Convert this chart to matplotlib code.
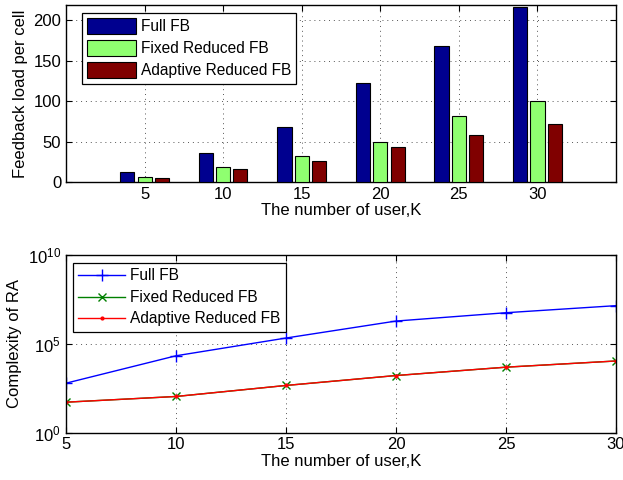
import numpy as np
import matplotlib
matplotlib.use("Agg")
import matplotlib.pyplot as plt

plt.rcParams['font.family'] = ['Liberation Sans', 'DejaVu Sans']
plt.rcParams['font.size'] = 12

users = [5, 10, 15, 20, 25, 30]

# feedback load per cell
load_full = [12.8, 35.5, 68.2, 122.7, 168.2, 216.1]
load_fixed = [6.6, 18.2, 31.8, 49.2, 81.4, 100.0]
load_adaptive = [5.0, 16.1, 26.4, 43.0, 58.3, 72.3]

# complexity of RA
cx_full = [6.0e2, 2.1e4, 2.1e5, 1.9e6, 5.6e6, 1.4e7]
cx_fixed = [51, 107, 447, 1620, 4790, 10700]
cx_adaptive = [51, 107, 447, 1620, 4790, 10700]

labels = ["Full FB", "Fixed Reduced FB", "Adaptive Reduced FB"]

fig = plt.figure(figsize=(6.23, 4.8), dpi=100)
ax1 = fig.add_axes([66 / 623, 1 - 182 / 480, 550 / 623, 177 / 480])
ax2 = fig.add_axes([66 / 623, 1 - 432.5 / 480, 550 / 623, 177.5 / 480])

x = np.array(users, dtype=float)
w = 0.9
off = 1.1
ax1.bar(x - off, load_full, w, color="#00008f", edgecolor="black", linewidth=0.8, label=labels[0], zorder=3)
ax1.bar(x, load_fixed, w, color="#8fff70", edgecolor="black", linewidth=0.8, label=labels[1], zorder=3)
ax1.bar(x + off, load_adaptive, w, color="#800000", edgecolor="black", linewidth=0.8, label=labels[2], zorder=3)
ax1.set_xlim(0, 35)
ax1.set_ylim(0, 219)
ax1.set_xticks(users)
ax1.set_yticks([0, 50, 100, 150, 200])
ax1.set_xlabel("The number of user,K", labelpad=1)
ax1.set_ylabel("Feedback load per cell")
ax1.grid(True, linestyle=(0, (1, 4)), color="#555555", linewidth=0.7, zorder=0)
leg1 = ax1.legend(loc="upper left", bbox_to_anchor=(0.029, 0.955), fancybox=False, edgecolor="black",
                  framealpha=1, fontsize=11.2, handlelength=3.1, handleheight=1.16, handletextpad=0.32,
                  borderpad=0.35, borderaxespad=0, labelspacing=0.38)
leg1.get_frame().set_linewidth(0.9)

ax2.semilogy(users, cx_full, color="#0000ff", marker="+", markersize=9, linewidth=1, label=labels[0])
ax2.semilogy(users, cx_fixed, color="#008000", marker="x", markersize=6, linewidth=1, label=labels[1])
ax2.semilogy(users, cx_adaptive, color="#ff0000", marker=".", markersize=4, linewidth=1, label=labels[2])
ax2.set_xlim(5, 30)
ax2.set_ylim(1, 1e10)
ax2.set_xticks(users)
ax2.set_yticks([1, 1e5, 1e10])
ax2.minorticks_off()
ax2.set_xlabel("The number of user,K", labelpad=1)
ax2.set_ylabel("Complexity of RA")
ax2.grid(True, linestyle=(0, (1, 4)), color="#555555", linewidth=0.7)
leg2 = ax2.legend(loc="upper left", bbox_to_anchor=(0.0127, 0.955), fancybox=False, edgecolor="black",
                  framealpha=1, fontsize=11.2, handlelength=3.0, handletextpad=0.32,
                  borderpad=0.35, borderaxespad=0, labelspacing=0.42)
leg2.get_frame().set_linewidth(0.9)

for ax in (ax1, ax2):
    ax.tick_params(direction="in", top=True, right=True, length=4, width=0.8)
    for s in ax.spines.values():
        s.set_linewidth(1.0)

fig.savefig("out.png", dpi=100)
